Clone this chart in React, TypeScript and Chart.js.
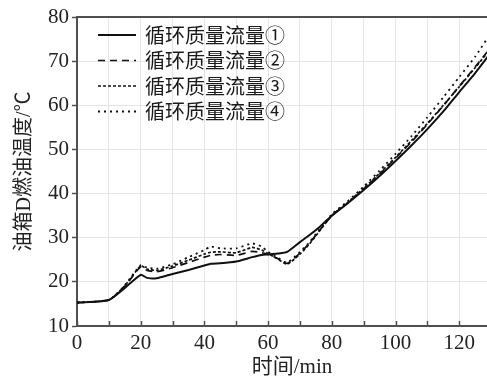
import React, { useEffect, useRef } from 'react';
import { Chart, registerables } from 'chart.js';

Chart.register(...registerables);

const time = [0, 10, 15, 20, 22, 25, 30, 35, 40, 42, 45, 50, 55, 58, 60, 63, 66, 70, 73, 76, 80, 85, 90, 95, 100, 105, 110, 115, 120, 125, 130];

const flow1 = [15.3, 15.9, 18.6, 21.6, 20.9, 20.8, 21.8, 22.7, 23.7, 24.1, 24.2, 24.6, 25.6, 26.1, 26.2, 26.4, 26.8, 29.0, 30.6, 32.3, 35.0, 37.8, 40.8, 44.0, 47.4, 50.9, 54.6, 58.6, 63.0, 67.3, 72.0];
const flow2 = [15.3, 15.9, 19.0, 23.4, 22.6, 22.3, 23.2, 24.4, 25.6, 26.0, 26.2, 26.0, 26.9, 26.6, 26.2, 25.3, 24.2, 26.5, 28.8, 31.5, 35.0, 37.9, 41.0, 44.4, 48.0, 51.7, 55.7, 59.9, 64.3, 68.7, 73.2];
const flow3 = [15.3, 15.9, 19.1, 23.6, 22.9, 22.6, 23.6, 24.9, 26.3, 26.7, 26.8, 26.6, 27.8, 27.2, 26.4, 25.2, 24.0, 26.3, 28.6, 31.4, 35.0, 38.0, 41.2, 44.6, 48.2, 52.0, 55.9, 60.0, 64.2, 68.5, 73.0];
const flow4 = [15.3, 15.9, 19.2, 23.8, 23.2, 23.0, 24.0, 25.6, 27.2, 28.0, 27.6, 27.6, 28.7, 28.0, 26.8, 25.5, 24.4, 26.8, 29.0, 31.8, 35.3, 38.3, 41.6, 45.2, 49.0, 53.0, 57.3, 61.8, 66.4, 71.0, 76.5];

const seriesLabels = ['循环质量流量①', '循环质量流量②', '循环质量流量③', '循环质量流量④'];
const seriesValues = [flow1, flow2, flow3, flow4];
const dashes: number[][] = [[], [7, 5], [3, 2], [2, 4]];
const widths = [2, 1.7, 1.7, 1.8];

const xTickValues = [0, 10, 20, 30, 40, 50, 60, 70, 80, 90, 100, 110, 120, 130];

const xTitle = '时间/min';
const yTitle = '油箱D燃油温度/℃';

const SERIF = '"Liberation Serif", "Noto Sans CJK SC", serif';
const AXIS_COLOR = '#505050';
const GRID_COLOR = '#e4e4e4';

const framePlugin = {
  id: 'frame',
  afterDraw(chart: any) {
    const { ctx, chartArea } = chart;
    const xs = chart.scales.x;
    ctx.save();
    ctx.strokeStyle = AXIS_COLOR;
    ctx.lineWidth = 2;
    ctx.beginPath();
    ctx.moveTo(chartArea.left - 1, chartArea.top);
    ctx.lineTo(chartArea.right, chartArea.top);
    ctx.stroke();
    ctx.lineWidth = 1.5;
    xTickValues.forEach((v) => {
      const px = Math.round(xs.getPixelForValue(v)) + 0.5;
      ctx.beginPath();
      ctx.moveTo(px, chartArea.bottom);
      ctx.lineTo(px, chartArea.bottom - 5);
      ctx.stroke();
    });
    ctx.font = '20px "Noto Sans CJK SC", sans-serif';
    ctx.textBaseline = 'middle';
    ctx.fillStyle = '#1a1a1a';
    chart.data.datasets.forEach((ds: any, i: number) => {
      const y = chartArea.top + 18 + i * 25.5;
      ctx.strokeStyle = '#111';
      ctx.lineWidth = ds.borderWidth;
      ctx.setLineDash(ds.borderDash || []);
      ctx.beginPath();
      ctx.moveTo(chartArea.left + 21, y);
      ctx.lineTo(chartArea.left + 59, y);
      ctx.stroke();
      ctx.setLineDash([]);
      ctx.fillText(ds.label, chartArea.left + 68, y);
    });
    ctx.restore();
  },
};

export default function App() {
  const ref = useRef<HTMLCanvasElement | null>(null);

  useEffect(() => {
    if (!ref.current) return;
    Chart.defaults.font.family = SERIF;
    const chart = new Chart(ref.current, {
      type: 'line',
      data: {
        datasets: seriesValues.map((vals, i) => ({
          label: seriesLabels[i],
          data: time.map((t, j) => ({ x: t, y: vals[j] })),
          borderColor: '#111',
          borderWidth: widths[i],
          borderDash: dashes[i],
          pointRadius: 0,
          tension: 0.2,
          fill: false,
        })),
      },
      options: {
        responsive: false,
        animation: false,
        devicePixelRatio: 1,
        layout: { padding: { top: 17, left: 0, right: 0, bottom: 0 } },
        plugins: { legend: { display: false }, tooltip: { enabled: false } },
        scales: {
          x: {
            type: 'linear',
            min: 0,
            max: 135,
            afterBuildTicks: (scale: any) => {
              scale.ticks = xTickValues.map((v) => ({ value: v }));
            },
            afterFit: (scale: any) => {
              scale.height = 56;
            },
            ticks: {
              callback: (v: any) => (Number(v) % 20 === 0 ? String(v) : ''),
              font: { size: 21, family: SERIF },
              color: '#222',
              padding: 5,
              maxRotation: 0,
              autoSkip: false,
            },
            grid: { color: GRID_COLOR, lineWidth: 1, drawTicks: false, tickLength: 0 },
            border: { color: AXIS_COLOR, width: 2 },
            title: {
              display: true,
              text: xTitle,
              color: '#222',
              font: { size: 21, family: SERIF },
              padding: { top: 0, bottom: 2 },
            },
          },
          y: {
            type: 'linear',
            min: 10,
            max: 80,
            afterFit: (scale: any) => {
              scale.width = 77;
            },
            ticks: {
              stepSize: 5,
              callback: (v: any) => (Number(v) % 10 === 0 ? String(v) : ''),
              font: { size: 21, family: SERIF },
              color: '#222',
              padding: 3,
            },
            grid: { color: GRID_COLOR, lineWidth: 1, tickLength: 5, tickColor: AXIS_COLOR, tickWidth: 1.5 },
            border: { color: AXIS_COLOR, width: 2 },
            title: {
              display: true,
              text: yTitle,
              color: '#222',
              font: { size: 20, family: SERIF },
              padding: { top: 13, bottom: 0 },
            },
          },
        },
      },
      plugins: [framePlugin],
    } as any);
    return () => chart.destroy();
  }, []);

  return (
    <div style={{ position: 'fixed', left: 0, top: 0, width: 487, height: 382, overflow: 'hidden', background: '#fff' }}>
      <canvas ref={ref} width={507} height={382} style={{ display: 'block', width: 507, height: 382 }} />
    </div>
  );
}
